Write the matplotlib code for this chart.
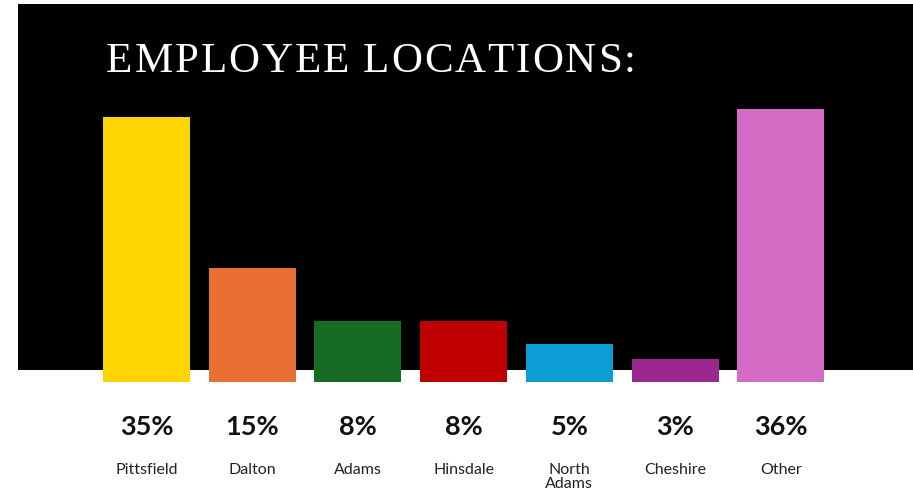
import matplotlib
matplotlib.use("Agg")
import matplotlib.pyplot as plt
from matplotlib.patches import Rectangle
import numpy as np

# data
locations = ["Pittsfield", "Dalton", "Adams", "Hinsdale", "North\nAdams", "Cheshire", "Other"]
shares = [35, 15, 8, 8, 5, 3, 36]
bar_colors = ["#fed401", "#e87033", "#186b23", "#c00000", "#0c9dd4", "#9c278e", "#d46bc5"]
title = "EMPLOYEE LOCATIONS:"

W, H = 913, 496
fig = plt.figure(figsize=(W / 100, H / 100), dpi=100)
fig.patch.set_facecolor("white")

# black panel behind the bars
fig.patches.append(Rectangle((18 / W, (H - 370) / H), (W - 18) / W, 366 / H,
                             transform=fig.transFigure, facecolor="black",
                             edgecolor="none", zorder=0))

# axes: bar baseline at y=382 px, top at y=4 px
ax = fig.add_axes([18 / W, (H - 382) / H, (W - 18) / W, 378 / H])
ax.set_facecolor("none")
ax.set_zorder(1)

step = 105.7
x = np.arange(len(locations))
ax.bar(x, shares, width=87 / step, color=bar_colors, zorder=2)
ax.set_xlim((18 - 146.5) / step, (W - 146.5) / step)
ax.set_ylim(0, 378 / 7.58)
ax.axis("off")

pt = 72 / 100  # pixels -> points
for i, (name, val) in enumerate(zip(locations, shares)):
    ax.annotate(f"{val}%", xy=(i, 0), xytext=(0, -45 * pt), textcoords="offset points",
                ha="center", va="center", fontsize=19.5, fontweight="bold",
                family="Lato", color="#111111", annotation_clip=False)
    ax.annotate(name, xy=(i, 0), xytext=(0, -81 * pt), textcoords="offset points",
                ha="center", va="top", fontsize=11.5, family="Lato",
                color="#222222", linespacing=1.0, annotation_clip=False)

# letter-spaced serif title
fig.canvas.draw()
renderer = fig.canvas.get_renderer()
fs = 31
xpos = 106
base_y = H - 72
spacing = 2.0
for ch in title:
    if ch == " ":
        xpos += fs * 100 / 72 * 0.22 + spacing
        continue
    t = fig.text(xpos / W, base_y / H, ch, fontsize=fs, family="Liberation Serif",
                 color="white", ha="left", va="baseline")
    bb = t.get_window_extent(renderer)
    xpos += bb.width + spacing

fig.savefig("out.png", dpi=100, facecolor="white")
